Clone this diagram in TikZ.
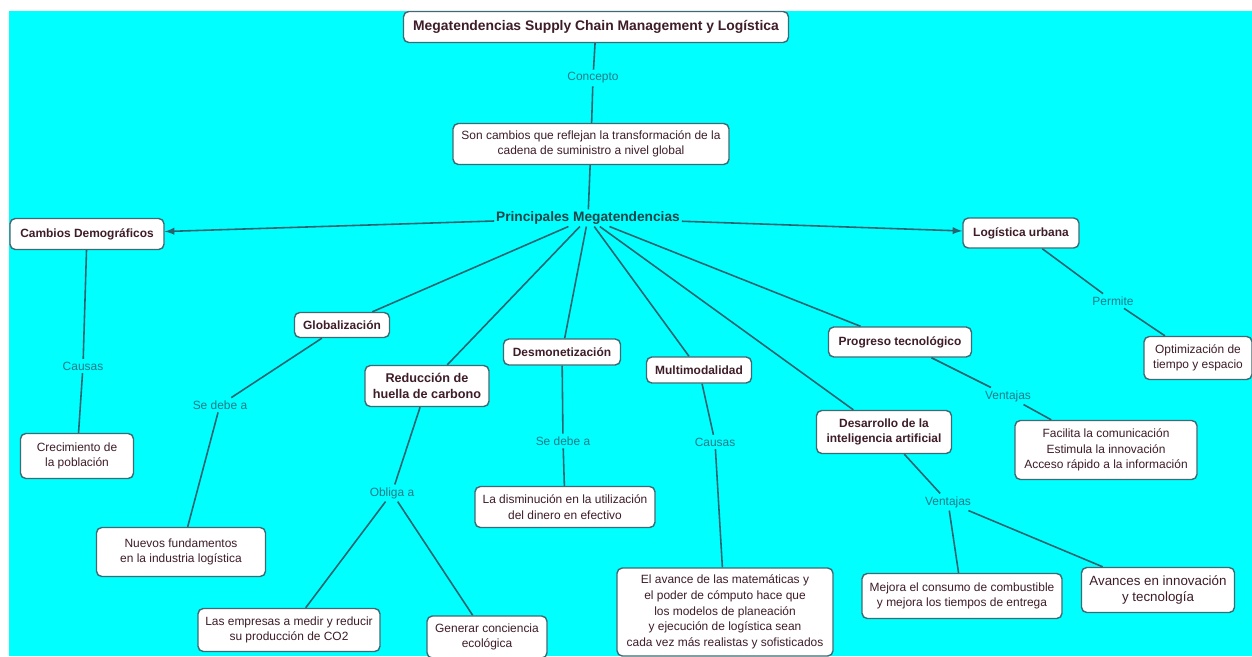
\documentclass[tikz,border=0pt]{standalone}
\usepackage{fontspec}
\setmainfont{Liberation Sans}
\usepackage{xcolor}
\usetikzlibrary{arrows,calc}

\definecolor{cmapbg}{HTML}{00FFFF}
\definecolor{cmapline}{HTML}{266470}
\definecolor{cmapbox}{HTML}{3E6A72}
\definecolor{cmaptext}{HTML}{3E1C28}
\definecolor{cmaplink}{HTML}{1F7A88}
\definecolor{cmaphub}{HTML}{1A4448}

\newcommand{\regtxt}{\fontsize{6.8}{8.9}\selectfont}
\newcommand{\boldtxt}{\fontsize{6.8}{8.8}\selectfont\bfseries}

\begin{document}
\begin{tikzpicture}[every node/.style={font=\regtxt},
    concept/.style={draw=cmapbox, fill=white, rounded corners=3pt, line width=0.8pt,
      align=center, text=cmaptext, inner xsep=4pt, inner ysep=4pt},
    keyc/.style={concept, font=\boldtxt},
    leaf/.style={concept, font=\regtxt},
    linkw/.style={fill=cmapbg, text=cmaplink, font=\regtxt, inner sep=1.5pt},
    conn/.style={draw=cmapline, line width=0.9pt}]
    \fill[white] (0,0) rectangle (25.04,13.12);
    \fill[cmapbg] (0.18,0) rectangle (25.04,12.9);
    \useasboundingbox (0,0) rectangle (25.04,13.12);

    \node[keyc, font=\fontsize{7.9}{9.5}\selectfont\bfseries, minimum width=7.7cm, minimum height=0.62cm] (title) at (11.92,12.58) {Megatendencias Supply Chain Management y Logística};
    \node[linkw] (lconc) at (11.86,11.56) {Concepto};
    \node[leaf, minimum width=5.52cm] (defin) at (11.82,10.24) {Son cambios que reflejan la transformación de la\\cadena de suministro a nivel global};
    \node[text=cmaphub, font=\fontsize{7.8}{9.5}\selectfont\bfseries, inner sep=1pt] (hub) at (11.76,8.76) {Principales Megatendencias};

    \node[keyc, minimum width=3.08cm, minimum height=0.62cm] (cambios) at (1.74,8.44) {Cambios Demográficos};
    \node[keyc, minimum width=2.32cm, minimum height=0.6cm] (logist) at (20.42,8.46) {Logística urbana};
    \node[keyc, minimum width=1.9cm, minimum height=0.5cm] (glob) at (6.84,6.62) {Globalización};
    \node[keyc, font=\fontsize{7.2}{9}\selectfont\bfseries, minimum width=2.48cm, minimum height=0.82cm] (reduc) at (8.54,5.40) {Reducción de\\huella de carbono};
    \node[keyc, minimum width=2.34cm, minimum height=0.52cm] (desmon) at (11.24,6.08) {Desmonetización};
    \node[keyc, minimum width=2.1cm, minimum height=0.52cm] (multi) at (13.98,5.72) {Multimodalidad};
    \node[keyc, minimum width=2.7cm, minimum height=0.86cm] (desarr) at (17.68,4.48) {Desarrollo de la\\inteligencia artificial};
    \node[keyc, minimum width=2.86cm, minimum height=0.6cm] (progreso) at (18.00,6.28) {Progreso tecnológico};

    \node[linkw] (lcausA) at (1.66,5.80) {Causas};
    \node[linkw] (lsedA) at (4.40,5.02) {Se debe a};
    \node[linkw] (lobliga) at (7.84,3.26) {Obliga a};
    \node[linkw] (lsedB) at (11.26,4.30) {Se debe a};
    \node[linkw] (lcausB) at (14.30,4.28) {Causas};
    \node[linkw] (lventA) at (18.96,3.08) {Ventajas};
    \node[linkw] (lventB) at (20.16,5.20) {Ventajas};
    \node[linkw] (lperm) at (22.26,7.10) {Permite};

    \node[leaf, minimum width=2.26cm, minimum height=0.9cm] (crec) at (1.54,4.00) {Crecimiento de\\la población};
    \node[leaf, minimum width=3.38cm, minimum height=0.98cm] (nuevos) at (3.62,2.08) {Nuevos fundamentos\\en la industria logística};
    \node[leaf, minimum width=3.64cm, minimum height=0.86cm] (empresas) at (5.78,0.52) {Las empresas a medir y reducir\\su producción de CO2};
    \node[leaf, minimum width=2.4cm, minimum height=0.84cm] (generar) at (9.74,0.38) {Generar conciencia\\ecológica};
    \node[leaf, minimum width=3.6cm, minimum height=0.82cm] (dismin) at (11.30,2.98) {La disminución en la utilización\\del dinero en efectivo};
    \node[leaf, minimum width=4.32cm, minimum height=1.76cm] (avance) at (14.50,0.88) {El avance de las matemáticas y\\el poder de cómputo hace que\\los modelos de planeación\\y ejecución de logística sean\\cada vez más realistas y sofisticados};
    \node[leaf, minimum width=4.0cm, minimum height=0.9cm] (mejora) at (19.24,1.20) {Mejora el consumo de combustible\\y mejora los tiempos de entrega};
    \node[leaf, font=\fontsize{7.6}{9.4}\selectfont, minimum width=3.06cm, minimum height=0.9cm] (avances) at (23.16,1.32) {Avances en innovación\\y tecnología};
    \node[leaf, minimum width=3.64cm, minimum height=1.18cm] (facilita) at (22.12,4.12) {Facilita la comunicación\\Estimula la innovación\\Acceso rápido a la información};
    \node[leaf, minimum width=2.16cm, minimum height=0.86cm] (optim) at (23.96,5.96) {Optimización de\\tiempo y espacio};

    \draw[conn] (title) -- (lconc) -- (defin) -- (hub);
    \draw[conn,-latex] (hub) -- (cambios);
    \draw[conn,-latex] (hub) -- (logist);
    \draw[conn] (hub) -- (glob);
    \draw[conn] (hub) -- (reduc);
    \draw[conn] (hub) -- (desmon);
    \draw[conn] (hub) -- (multi);
    \draw[conn] (hub) -- (desarr);
    \draw[conn] (hub) -- (progreso);
    \draw[conn] (cambios) -- (lcausA) -- (crec);
    \draw[conn] (glob) -- (lsedA) -- (nuevos);
    \draw[conn] (reduc) -- (lobliga) -- (empresas);
    \draw[conn] (lobliga) -- (generar);
    \draw[conn] (desmon) -- (lsedB) -- (dismin);
    \draw[conn] (multi) -- (lcausB) -- (avance);
    \draw[conn] (desarr) -- (lventA) -- (mejora);
    \draw[conn] (lventA) -- (avances);
    \draw[conn] (progreso) -- (lventB) -- (facilita);
    \draw[conn] (logist) -- (lperm) -- (optim);
\end{tikzpicture}
\end{document}
